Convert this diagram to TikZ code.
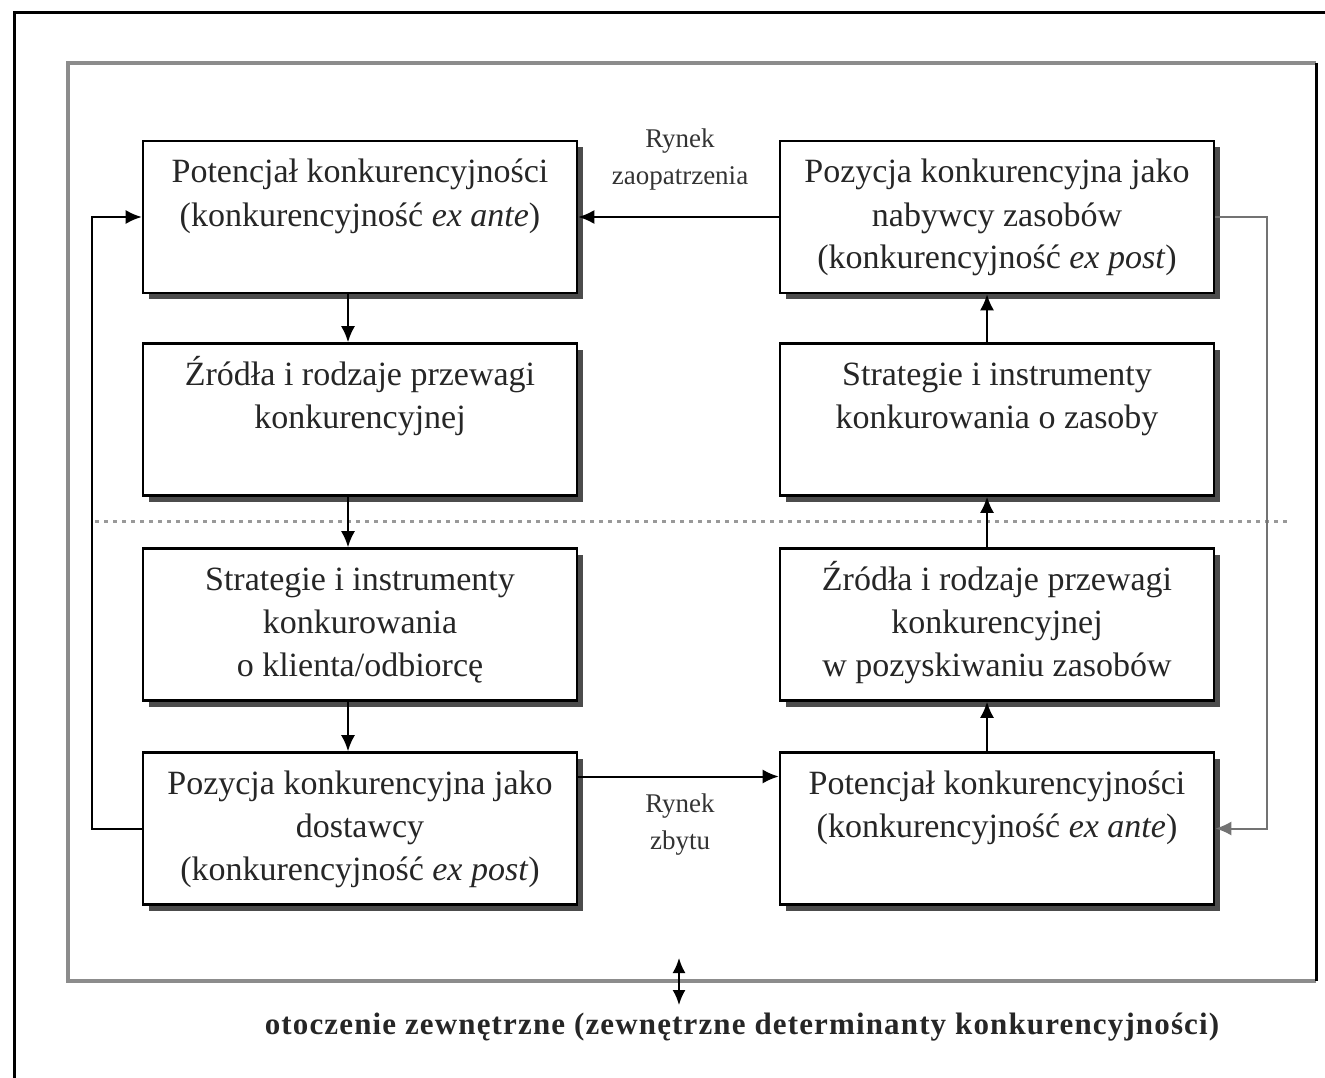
\documentclass[tikz,border=0pt]{standalone}
\usepackage{fontspec}
\setmainfont{Liberation Serif}
\usetikzlibrary{arrows.meta,shadows}
\newcommand{\boxtxt}[1]{\parbox[c][152pt][t]{434pt}{\centering\fontsize{34}{43}\selectfont\rule{0pt}{42pt}#1}}
\begin{document}
\begin{tikzpicture}[x=1pt,y=-1pt,
  box/.style={draw=black, line width=2.6pt, fill=white, inner sep=0pt, text=black!85,
    drop shadow={shadow xshift=6pt,shadow yshift=-6pt,fill=black!70,opacity=1}},
  arr/.style={line width=2pt, -{Latex[length=16pt,width=14pt]}},
  lab/.style={align=center, inner sep=0pt, font=\fontsize{27}{37}\selectfont, text=black!80},
  ]
\useasboundingbox (0,0) rectangle (1325,1078);
% frames
\draw[line width=3pt] (14,1078) -- (14,13) -- (1325,13);
\draw[line width=4pt, black!45] (1316,981) -- (68,981) -- (68,63) -- (1316,63);
\draw[line width=3pt] (1316,63) -- (1316,981);
% dotted separator
\draw[line width=3pt, black!40, dash pattern=on 4pt off 5pt] (95,521) -- (1290,521);
% boxes
\node[box] (B1) at (360,217) {\boxtxt{Potencjał konkurencyjności\\(konkurencyjność \textit{ex ante})}};
\node[box] (B2) at (360,419.5) {\boxtxt{Źródła i rodzaje przewagi\\konkurencyjnej}};
\node[box] (B3) at (360,624.5) {\boxtxt{Strategie i instrumenty\\konkurowania\\o klienta/odbiorcę}};
\node[box] (B4) at (360,828.5) {\boxtxt{Pozycja konkurencyjna jako\\dostawcy\\(konkurencyjność \textit{ex post})}};
\node[box] (R1) at (997,217) {\boxtxt{Pozycja konkurencyjna jako\\nabywcy zasobów\\(konkurencyjność \textit{ex post})}};
\node[box] (R2) at (997,419.5) {\boxtxt{Strategie i instrumenty\\konkurowania o zasoby}};
\node[box] (R3) at (997,624.5) {\boxtxt{Źródła i rodzaje przewagi\\konkurencyjnej\\w pozyskiwaniu zasobów}};
\node[box] (R4) at (997,828.5) {\boxtxt{Potencjał konkurencyjności\\(konkurencyjność \textit{ex ante})}};
% vertical arrows
\draw[arr] ([xshift=-12pt]B1.south) -- ([xshift=-12pt]B2.north);
\draw[arr] ([xshift=-12pt]B2.south) -- ([xshift=-12pt]B3.north);
\draw[arr] ([xshift=-12pt]B3.south) -- ([xshift=-12pt]B4.north);
\draw[arr] ([xshift=-10pt]R4.north) -- ([xshift=-10pt]R3.south);
\draw[arr] ([xshift=-10pt]R3.north) -- ([xshift=-10pt]R2.south);
\draw[arr] ([xshift=-10pt]R2.north) -- ([xshift=-10pt]R1.south);
% horizontal arrows
\draw[arr] (R1.west) -- (B1.east);
\draw[arr] ([yshift=52pt]B4.east) -- ([yshift=52pt]R4.west);
% loops
\draw[arr] (B4.west) -- ++(-50,0) |- (B1.west);
\draw[arr, black!55] (R1.east) -- ++(52,0) |- (R4.east);
% labels
\node[lab] (lz) at (680,160) {Rynek\\zaopatrzenia};
\node[lab] (lzb) at (680,825) {Rynek\\zbytu};
% environment
\coordinate (dtop) at (679,958);
\coordinate (dbot) at (679,1005);
\draw[line width=2pt, {Latex[length=15pt,width=13pt]}-{Latex[length=15pt,width=13pt]}] (dtop) -- (dbot);
\node[inner sep=0pt, text=black!85, font={\fontsize{31}{36}\selectfont\bfseries\addfontfeature{LetterSpace=3.7}}] (env) at (742,1027) {otoczenie zewnętrzne (zewnętrzne determinanty konkurencyjności)};
\end{tikzpicture}
\end{document}
